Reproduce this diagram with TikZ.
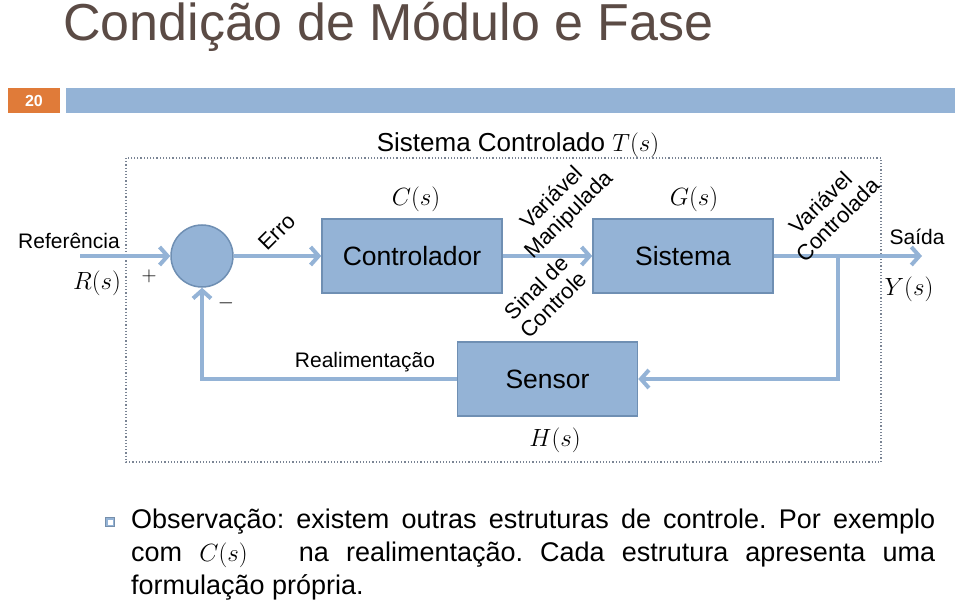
\documentclass[tikz,border=0pt]{standalone}
\usepackage{fontspec}
\setmainfont{Liberation Sans}
\usetikzlibrary{arrows.meta}
\definecolor{boxblue}{HTML}{94B3D6}
\definecolor{boxedge}{HTML}{6F8FB3}
\definecolor{arrblue}{HTML}{94B3D6}
\definecolor{titlecol}{HTML}{5B4B45}
\definecolor{numorange}{HTML}{E07B39}
\definecolor{barblue}{HTML}{94B3D6}
\definecolor{dotcol}{HTML}{7A8494}
\frenchspacing
\tikzset{
  blockbox/.style={draw=boxedge, line width=1.5pt, fill=boxblue, minimum width=180pt, minimum height=74pt, inner sep=0pt, font=\fontsize{26.5}{26.5}\selectfont},
  flow/.style={draw=arrblue, line width=4pt, -{Straight Barb[length=8pt,width=18pt,line width=4pt]}},
  lbl/.style={font=\fontsize{21}{22}\selectfont, inner sep=0pt},
  rlbl/.style={font=\fontsize{22}{24}\selectfont, inner sep=0pt, align=center, rotate=45},
  mathlbl/.style={font=\fontsize{23}{23}\selectfont, inner sep=0pt},
}
\begin{document}
\begin{tikzpicture}[x=1pt,y=-1pt]
\useasboundingbox (0,0) rectangle (959,604);
% title
\node[anchor=west, text=titlecol, font=\fontsize{52}{52}\selectfont, inner sep=0pt] (title) at (63,27) {Condição de Módulo e Fase};
% header bars
\node[fill=numorange, minimum width=52pt, minimum height=25pt, inner sep=0pt, text=white, font=\fontsize{16}{16}\selectfont\bfseries] (num) at (34,100.5) {20};
\node[fill=barblue, minimum width=889pt, minimum height=25pt, inner sep=0pt] (bar) at (510.5,100.5) {};
% dotted frame
\draw[dotcol, line width=1.2pt, dotted] (126,158) rectangle (881,462);
\node[font=\fontsize{26}{26}\selectfont, inner sep=0pt] (tsys) at (518,145) {Sistema Controlado $T(s)$};
% blocks
\node[draw=boxedge, line width=1.5pt, fill=boxblue, circle, minimum size=62pt, inner sep=0pt] (sum) at (202,256) {};
\node[blockbox] (ctrl) at (412,256) {Controlador};
\node[blockbox] (sys) at (683,256) {Sistema};
\node[blockbox] (sens) at (547.5,379) {Sensor};
% coordinates
\coordinate (in) at (80,256);
\coordinate (out) at (922,256);
\coordinate (br) at (838,256);
\coordinate (brd) at (838,379);
\coordinate (fbl) at (202,379);
% connectors
\draw[flow] (in) -- (sum);
\draw[flow] (sum) -- (ctrl);
\draw[flow] (ctrl) -- (sys);
\draw[flow] (sys) -- (out);
\draw[flow] (br) -- (brd) -- (sens);
\draw[flow] (sens) -- (fbl) -- (sum);
% labels
\node[lbl] (ref) at (69,241) {Referência};
\node[mathlbl] (rs) at (97,283) {$R(s)$};
\node[font=\fontsize{22}{22}\selectfont, inner sep=0pt] (plus) at (149,276) {$+$};
\node[font=\fontsize{22}{22}\selectfont, inner sep=0pt] (minus) at (226,303) {$-$};
\node[rlbl] (erro) at (277,232) {Erro};
\node[mathlbl] (cs) at (416,199) {$C(s)$};
\node[mathlbl] (gs) at (694,199) {$G(s)$};
\node[mathlbl] (hs) at (555,440) {$H(s)$};
\node[rlbl] (vm) at (561,207) {Variável\\Manipulada};
\node[rlbl] (sc) at (545,296) {Sinal de\\Controle};
\node[rlbl] (vc) at (829,211) {Variável\\Controlada};
\node[lbl] (saida) at (917,237) {Saída};
\node[mathlbl] (ys) at (909,289) {$Y(s)$};
\node[lbl] (real) at (365,362) {Realimentação};
% bottom text
\node[draw=boxblue!80!black, fill=boxblue, minimum size=9pt, inner sep=0pt, line width=0.5pt] (bul) at (110,522) {};
\node[draw=white, fill=white, minimum size=4pt, inner sep=0pt] (bulin) at (110,522) {};
\node[anchor=west, inner sep=0pt, font=\fontsize{27}{27}\selectfont] (l1) at (131,522) {\makebox[804pt][s]{Observação: existem outras estruturas de controle. Por exemplo}};
\node[anchor=west, inner sep=0pt, font=\fontsize{27}{27}\selectfont] (l2) at (131,555) {\makebox[804pt][s]{com $C(s)$\ \ \ na realimentação. Cada estrutura apresenta uma}};
\node[anchor=west, inner sep=0pt, font=\fontsize{27}{27}\selectfont] (l3) at (131,587) {formulação própria.};
\end{tikzpicture}
\end{document}
